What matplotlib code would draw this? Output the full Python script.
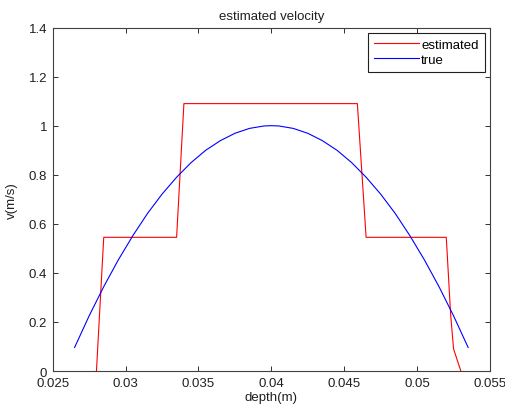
import matplotlib

matplotlib.use("Agg", force=True)
import matplotlib.pyplot as plt

# estimated velocity (piecewise constant with sloped transitions)
est_depth = [0.0280, 0.0285, 0.0335, 0.0340, 0.0459, 0.0465, 0.0520, 0.0523, 0.0525, 0.0530]
est_vel = [0.0, 0.545, 0.545, 1.09, 1.09, 0.545, 0.545, 0.23, 0.09, 0.0]

# true velocity profile
true_depth = [0.0265, 0.0275, 0.0285, 0.0295, 0.0305, 0.0315, 0.0325, 0.0335, 0.0345,
              0.0355, 0.0365, 0.0375, 0.0385, 0.0395, 0.0400, 0.0405, 0.0415, 0.0425,
              0.0435, 0.0445, 0.0455, 0.0465, 0.0475, 0.0485, 0.0495, 0.0505, 0.0515,
              0.0525, 0.0535]
true_vel = [0.096, 0.225, 0.344, 0.453, 0.552, 0.642, 0.721, 0.790, 0.850,
            0.900, 0.939, 0.969, 0.989, 0.999, 1.000, 0.999, 0.989, 0.969,
            0.939, 0.900, 0.850, 0.790, 0.721, 0.642, 0.552, 0.453, 0.344,
            0.225, 0.096]

xticks = [0.025, 0.03, 0.035, 0.04, 0.045, 0.05, 0.055]
xtick_labels = ["0.025", "0.03", "0.035", "0.04", "0.045", "0.05", "0.055"]
yticks = [0, 0.2, 0.4, 0.6, 0.8, 1.0, 1.2, 1.4]
ytick_labels = ["0", "0.2", "0.4", "0.6", "0.8", "1", "1.2", "1.4"]

plt.rcParams["font.family"] = ["Liberation Sans", "DejaVu Sans"]
plt.rcParams["font.size"] = 9.5

fig = plt.figure(figsize=(5.05, 4.14), dpi=100)
fig.patch.set_facecolor("white")
ax = fig.add_axes([0.1044, 0.1014, 0.8659, 0.8296])

ax.plot(est_depth, est_vel, color="#ff0000", lw=0.8, label="estimated")
ax.plot(true_depth, true_vel, color="#0000ff", lw=0.8, label="true")

ax.set_xlim(0.025, 0.055)
ax.set_ylim(0, 1.4)
ax.set_xticks(xticks)
ax.set_xticklabels(xtick_labels)
ax.set_yticks(yticks)
ax.set_yticklabels(ytick_labels)
ax.tick_params(direction="in", length=3.6, width=0.7, top=True, right=True,
               color="#303030", labelcolor="#202020", pad=4)
for spine in ax.spines.values():
    spine.set_color("#404040")
    spine.set_linewidth(0.8)

ax.set_title("estimated velocity", fontsize=9.5, pad=6, color="#202020")
ax.set_xlabel("depth(m)", labelpad=2, color="#202020")
ax.set_ylabel("v(m/s)", labelpad=8, color="#202020")

leg = ax.legend(loc="upper right", fancybox=False, edgecolor="#202020", framealpha=1,
                handlelength=3.4, handletextpad=0.2, borderaxespad=0.4,
                labelspacing=0.2, borderpad=0.45)
leg.get_frame().set_linewidth(0.8)

fig.savefig("out.png", dpi=100, facecolor="white")
